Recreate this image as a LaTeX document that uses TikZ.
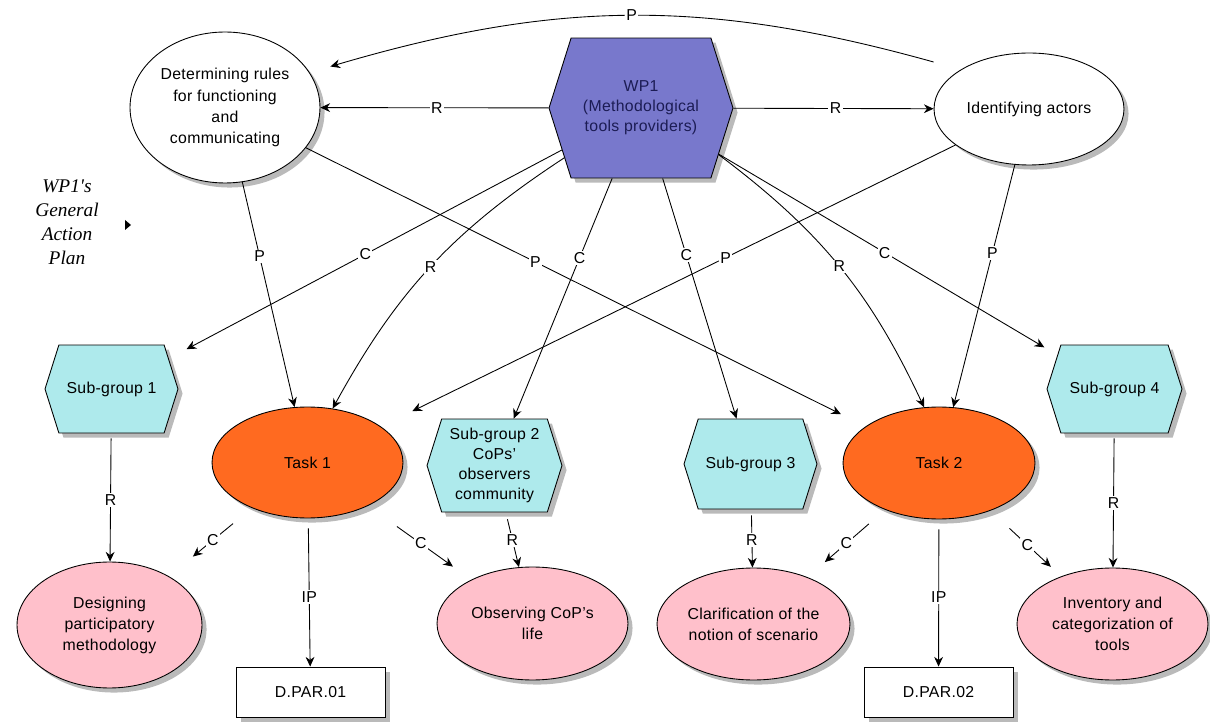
\documentclass[tikz,border=0pt]{standalone}
\usepackage{fontspec}
\setmainfont{Liberation Sans}[LetterSpace=2]
\newfontfamily\planfont{Liberation Serif}
\usetikzlibrary{arrows.meta,shapes.geometric,shapes.symbols,shadows}
\definecolor{wpblue}{RGB}{120,120,204}
\definecolor{wpnavy}{RGB}{28,28,84}
\definecolor{subcyan}{RGB}{174,234,236}
\definecolor{taskorange}{RGB}{255,106,32}
\definecolor{respink}{RGB}{255,192,203}
\tikzset{
  dshadow/.style={drop shadow={shadow xshift=2.6pt,shadow yshift=-2.6pt,fill=black!27,opacity=1}},
  hexa/.style={shape=signal,signal to=east and west,signal pointer angle=145,draw,line width=0.5pt,
    inner sep=0pt,align=center,dshadow,font=\fontsize{9}{11.5}\selectfont},
  oval/.style={ellipse,draw,line width=0.5pt,inner sep=0pt,align=center,dshadow,font=\fontsize{9}{12}\selectfont},
  deliv/.style={rectangle,draw,fill=white,line width=0.5pt,minimum width=2.98cm,minimum height=1cm,
    dshadow,font=\fontsize{9}{12}\selectfont},
  link/.style={line width=0.5pt,-{Stealth[length=5.5pt,width=5pt]}},
  lbl/.style={fill=white,inner sep=0.8pt,font=\fontsize{9}{9}\selectfont}
}

\begin{document}
\begin{tikzpicture}[x=0.02cm,y=-0.02cm]
  \useasboundingbox (0,0) rectangle (1210,722);
  % top row
  \node[hexa,fill=wpblue,text=wpnavy,minimum width=3.68cm,minimum height=2.8cm] (wp1) at (641,108)
    {WP1\\(Methodological\\tools providers)};
  \node[oval,fill=white,minimum width=3.8cm,minimum height=3.02cm] (rules) at (225,107.5)
    {Determining rules\\for functioning\\and\\communicating};
  \node[oval,fill=white,minimum width=3.8cm,minimum height=2.24cm] (actors) at (1029,109) {Identifying actors};
  \node[font=\planfont\itshape\fontsize{11}{13.6}\selectfont,align=center] (plan) at (67,222)
    {WP1's\\General\\Action\\Plan};
  \fill (125,220) -- (131,225) -- (125,230) -- cycle;
  % sub-groups and tasks
  \node[hexa,fill=subcyan,minimum width=2.66cm,minimum height=1.76cm] (sg1) at (111.5,389) {Sub-group 1};
  \node[hexa,fill=subcyan,minimum width=2.7cm,minimum height=1.86cm] (sg2) at (494.5,465.5)
    {Sub-group 2\\CoPs'\\observers\\community};
  \node[hexa,fill=subcyan,minimum width=2.66cm,minimum height=1.8cm] (sg3) at (750.5,464) {Sub-group 3};
  \node[hexa,fill=subcyan,minimum width=2.7cm,minimum height=1.76cm] (sg4) at (1114.5,389) {Sub-group 4};
  \node[oval,fill=taskorange,minimum width=3.82cm,minimum height=2.22cm] (task1) at (307.5,462.5) {Task 1};
  \node[oval,fill=taskorange,minimum width=3.84cm,minimum height=2.24cm] (task2) at (939,463) {Task 2};
  % results and deliverables
  \node[oval,fill=respink,minimum width=3.7cm,minimum height=2.52cm] (design) at (109.5,625)
    {Designing\\participatory\\methodology};
  \node[oval,fill=respink,minimum width=3.82cm,minimum height=2.26cm] (observe) at (532.5,623.5)
    {Observing CoP's\\life};
  \node[oval,fill=respink,minimum width=3.86cm,minimum height=2.24cm] (clarify) at (753.5,624)
    {Clarification of the\\notion of scenario};
  \node[oval,fill=respink,minimum width=3.82cm,minimum height=2.24cm] (inventory) at (1112.5,624)
    {Inventory and\\categorization of\\tools};
  \node[deliv] (dpar1) at (310.5,692) {D.PAR.01};
  \node[deliv] (dpar2) at (938.5,692) {D.PAR.02};

  % links from the top row
  \draw[link] (wp1) -- node[lbl,pos=0.49]{R} (rules);
  \draw[link] (wp1) -- node[lbl,pos=0.51]{R} (actors);
  \draw[link] ([yshift=0.94cm]actors.west) to[bend right=16] node[lbl]{P} ([xshift=0.2cm,yshift=0.82cm]rules.east);
  \draw[link] (rules) -- node[lbl,pos=0.33]{P} (task1);
  \draw[link,shorten >=0.55cm] (rules) -- node[lbl,pos=0.41]{P} (task2);
  \draw[link,shorten >=0.4cm] (wp1) -- node[lbl,pos=0.5]{C} (sg1);
  \draw[link] (wp1.213) to[bend right=14] node[lbl]{R} (task1.65);
  \draw[link] (wp1) -- node[lbl,pos=0.33]{C} (sg2);
  \draw[link] (wp1) -- node[lbl,pos=0.32]{C} (sg3);
  \draw[link] (wp1.329) to[bend left=14] node[lbl]{R} (task2.105);
  \draw[link,shorten >=0.3cm] (wp1) -- node[lbl,pos=0.49]{C} (sg4);
  \draw[link,shorten >=0.7cm] (actors) -- node[lbl,pos=0.4]{P} (task1);
  \draw[link] (actors) -- node[lbl,pos=0.365]{P} (task2);

  % links to results
  \draw[link,shorten <=0.1cm] (sg1) -- node[lbl,pos=0.52]{R} (design);
  \draw[link,shorten <=0.49cm,shorten >=0.62cm] (task1) -- node[lbl,pos=0.47]{C} (design);
  \draw[link,shorten <=0.71cm,shorten >=0.45cm] (task1) -- node[lbl,pos=0.51]{C} (observe);
  \draw[link,shorten <=0.14cm] (sg2) -- node[lbl,pos=0.5]{R} (observe);
  \draw[link,shorten <=0.2cm] (task1) -- node[lbl,pos=0.53]{IP} (dpar1);
  \draw[link,shorten <=0.12cm] (sg3) -- node[lbl,pos=0.53]{R} (clarify);
  \draw[link,shorten <=0.43cm,shorten >=0.46cm] (task2) -- node[lbl,pos=0.5]{C} (clarify);
  \draw[link,shorten <=0.2cm] (task2) -- node[lbl,pos=0.53]{IP} (dpar2);
  \draw[link,shorten <=0.52cm,shorten >=0.28cm] (task2) -- node[lbl,pos=0.52]{C} (inventory);
  \draw[link,shorten <=0.1cm] (sg4) -- node[lbl,pos=0.52]{R} (inventory);
\end{tikzpicture}
\end{document}
